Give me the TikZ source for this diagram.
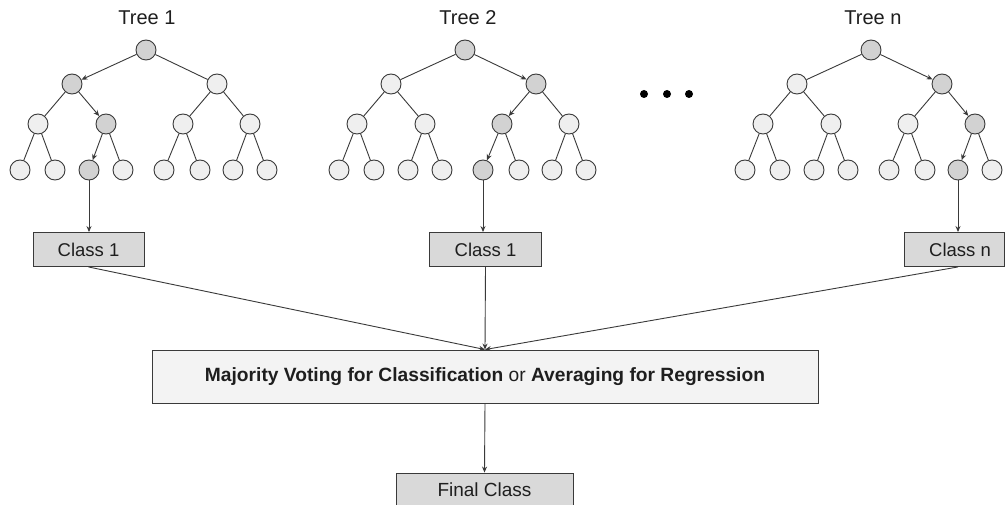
\documentclass[tikz,border=0pt]{standalone}
\usepackage{fontspec}
\setmainfont{Liberation Sans}
\usetikzlibrary{arrows.meta}
\definecolor{linec}{HTML}{3A3A3A}
\definecolor{plainfill}{HTML}{EFEFEF}
\definecolor{hlfill}{HTML}{D2D2D2}
\definecolor{boxfill}{HTML}{D9D9D9}
\definecolor{majfill}{HTML}{F3F3F3}
\definecolor{textc}{HTML}{1E1E1E}
\tikzset{
  leaf/.style={circle, draw=linec, line width=0.9pt, minimum size=20pt, inner sep=0pt},
  plain/.style={fill=plainfill},
  hl/.style={fill=hlfill},
  edge/.style={draw=linec, line width=0.9pt},
  arr/.style={draw=linec, line width=0.9pt, -{Stealth[length=6pt,width=5pt]}},
  classbox/.style={rectangle, draw=linec, line width=0.9pt, fill=boxfill, minimum height=34pt, inner sep=0pt, text=textc, font=\fontsize{18.5}{22}\selectfont},
  title/.style={text=textc, font=\fontsize{20}{24}\selectfont},
  dotnode/.style={circle, fill=black, minimum size=8pt, inner sep=0pt},
}
\newcommand\drawtree[5]{%
  \node[leaf,hl] (#1r) at (#2,50) {};
  \foreach \i/\dx in {1/-74,2/71}{%
    \ifnum\i=#3 \def\st{hl}\else\def\st{plain}\fi
    \node[leaf,\st] (#1a\i) at (#2+\dx,84) {};}
  \foreach \j/\dx in {1/-108,2/-40,3/37,4/104}{%
    \ifnum\j=#4 \def\st{hl}\else\def\st{plain}\fi
    \node[leaf,\st] (#1b\j) at (#2+\dx,124) {};}
  \foreach \k/\dx in {1/-126,2/-91,3/-57,4/-23,5/18,6/54,7/87,8/121}{%
    \ifnum\k=#5 \def\st{hl}\else\def\st{plain}\fi
    \node[leaf,\st] (#1c\k) at (#2+\dx,170) {};}
  \foreach \i in {1,2}{%
    \ifnum\i=#3 \draw[arr] (#1r) -- (#1a\i);\else\draw[edge] (#1r) -- (#1a\i);\fi}
  \foreach \j in {1,...,4}{%
    \pgfmathtruncatemacro\p{(\j+1)/2}%
    \ifnum\j=#4 \draw[arr] (#1a\p) -- (#1b\j);\else\draw[edge] (#1a\p) -- (#1b\j);\fi}
  \foreach \k in {1,...,8}{%
    \pgfmathtruncatemacro\p{(\k+1)/2}%
    \ifnum\k=#5 \draw[arr] (#1b\p) -- (#1c\k);\else\draw[edge] (#1b\p) -- (#1c\k);\fi}
}
\begin{document}
\begin{tikzpicture}[x=1pt,y=-1pt]
\useasboundingbox (0,0) rectangle (1005,505);
\clip (0,0) rectangle (1005,505);
\fill[white] (0,0) rectangle (1005,505);

% titles
\node[title] (tt1) at (147,18) {Tree 1};
\node[title] (tt2) at (468,18) {Tree 2};
\node[title] (ttn) at (873,18) {Tree n};

% trees
\drawtree{t1}{146}{1}{2}{3}
\drawtree{t2}{465}{2}{3}{5}
\drawtree{t3}{871}{2}{4}{7}

% dots
\node[dotnode] (d1) at (644,94) {};
\node[dotnode] (d2) at (667,94) {};
\node[dotnode] (d3) at (689,94) {};

% class boxes
\node[classbox, minimum width=111pt] (c1) at (88.5,249.5) {Class 1};
\node[classbox, minimum width=112pt] (c2) at (485.5,249.5) {Class 1};
\node[classbox, minimum width=100pt] (cn) at (954,249.5) {\hspace*{12pt}Class n};

\draw[arr] (t1c3) -- (t1c3 |- c1.north);
\draw[arr] (t2c5) -- (t2c5 |- c2.north);
\draw[arr] (t3c7) -- (t3c7 |- cn.north);

% majority box
\node[rectangle, draw=linec, line width=0.9pt, fill=majfill, minimum width=666pt, minimum height=53pt, inner sep=0pt, text=textc, font=\fontsize{19.2}{23}\selectfont] (maj) at (485,376.5)
  {\textbf{Majority Voting for Classification} or \textbf{Averaging for Regression}};

\draw[arr] (c1.south) -- (maj.north);
\draw[arr] (c2.south) -- (maj.north);
\draw[arr] (t3c7 |- cn.south) -- (maj.north);

% final
\node[classbox, minimum width=177pt, font=\fontsize{19}{22}\selectfont] (fin) at (484.5,490) {Final Class};
\draw[arr] (maj.south) -- (fin.north);
\end{tikzpicture}
\end{document}
